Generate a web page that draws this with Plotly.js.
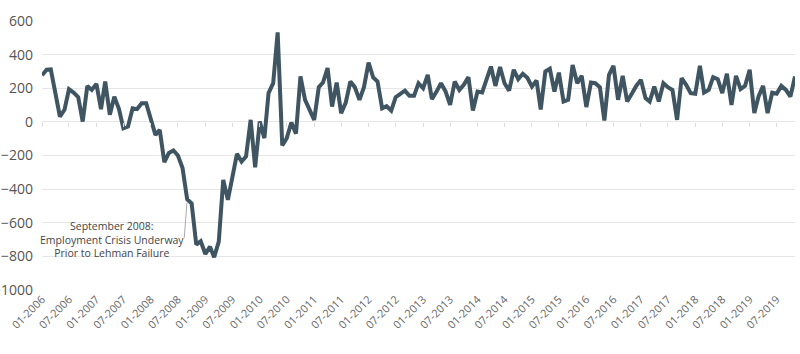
<!DOCTYPE html>
<html><head><meta charset="utf-8">
<script src="https://cdn.plot.ly/plotly-3.0.1.min.js"></script>
<style>html,body{margin:0;padding:0;background:#fff}#chart{width:800px;height:354px}</style>
</head><body><div id="chart"></div>
<script>
// Monthly change in nonfarm payrolls (thousands), Jan 2006 - Nov 2019
const startYear = 2006;
const y2006 = [277, 310, 312, 180, 32, 72, 194, 174, 147, 2, 214, 190];
const y2007 = [226, 76, 240, 42, 150, 78, -38, -28, 81, 76, 111, 111];
const y2008 = [17, -77, -48, -240, -185, -170, -200, -275, -460, -485, -730, -710];
const y2009 = [-786, -742, -805, -712, -345, -464, -330, -190, -236, -206, 12, -270];
const y2010 = [2, -97, 171, 230, 532, -140, -97, -4, -70, 270, 131, 71];
const y2011 = [12, 206, 234, 320, 91, 234, 52, 115, 240, 206, 131, 206];
const y2012 = [353, 264, 240, 81, 93, 67, 147, 167, 186, 155, 155, 230];
const y2013 = [200, 280, 135, 180, 230, 180, 101, 240, 190, 220, 266, 67];
const y2014 = [180, 175, 250, 329, 214, 326, 230, 186, 310, 254, 286, 262];
const y2015 = [210, 246, 74, 300, 316, 180, 293, 121, 131, 339, 230, 274];
const y2016 = [88, 234, 230, 206, 8, 280, 333, 131, 274, 121, 167, 214];
const y2017 = [250, 141, 121, 210, 121, 230, 206, 190, 12, 260, 220, 171];
const y2018 = [167, 333, 174, 190, 266, 254, 171, 286, 101, 274, 195, 214];
const y2019 = [310, 52, 150, 214, 52, 174, 167, 214, 190, 150, 270];
const yearly = [y2006, y2007, y2008, y2009, y2010, y2011, y2012, y2013, y2014, y2015, y2016, y2017, y2018, y2019];

const annotationText = 'September 2008:<br>Employment Crisis Underway<br>Prior to Lehman Failure';
const annotationDate = '2008-09-01';

const dates = [], values = [];
yearly.forEach((arr, yi) => {
  arr.forEach((v, mi) => {
    dates.push((startYear + yi) + '-' + String(mi + 1).padStart(2, '0') + '-01');
    values.push(v);
  });
});
const annoValue = values[dates.indexOf(annotationDate)];

const lineColor = '#3f5561';
const fontFam = "'Open Sans', sans-serif";

const traces = [
  {x: dates, y: values, xaxis: 'x2', mode: 'lines', line: {width: 1, color: 'rgba(0,0,0,0)'}, hoverinfo: 'skip', showlegend: false},
  {x: dates, y: values, mode: 'lines', line: {width: 4, color: lineColor}, showlegend: false}
];

const xr = [dates[0], dates[dates.length - 1]];
const layout = {
  width: 800, height: 354,
  margin: {l: 42, r: 5, t: 21, b: 64},
  paper_bgcolor: '#fff', plot_bgcolor: '#fff',
  font: {family: fontFam, color: '#555'},
  showlegend: false,
  xaxis: {
    type: 'date', range: xr, tick0: '2006-01-01', dtick: 'M6', tickformat: '%m-%Y',
    tickangle: -45, showgrid: false, zeroline: false, showline: false, ticks: '',
    tickfont: {size: 11, color: '#666', family: fontFam}
  },
  xaxis2: {
    type: 'date', range: xr, tick0: '2006-01-01', dtick: 'M6', overlaying: 'x', anchor: 'free', position: 0.625,
    showgrid: false, zeroline: false, showline: false, ticks: 'outside', ticklen: 4, tickwidth: 1, tickcolor: '#dcdcdc',
    showticklabels: false
  },
  yaxis: {
    range: [-1000, 600], dtick: 200, tick0: 0, gridcolor: '#e6e6e6', gridwidth: 1,
    zeroline: false, showline: false, ticks: '', ticklabelstandoff: 8,
    tickfont: {size: 14, color: '#555', family: fontFam}
  },
  annotations: [
    {x: '2007-04-15', y: -700, xref: 'x', yref: 'y', text: annotationText, showarrow: false,
     font: {size: 10.5, color: '#444', family: fontFam}, align: 'center'},
    {x: annotationDate, y: annoValue, xref: 'x', yref: 'y', text: '', showarrow: true,
     arrowhead: 0, arrowwidth: 1, arrowcolor: '#aaaaaa', ax: -3, ay: 40, standoff: 4}
  ]
};

Plotly.newPlot('chart', traces, layout, {displayModeBar: false, staticPlot: true});
</script>
</body></html>
